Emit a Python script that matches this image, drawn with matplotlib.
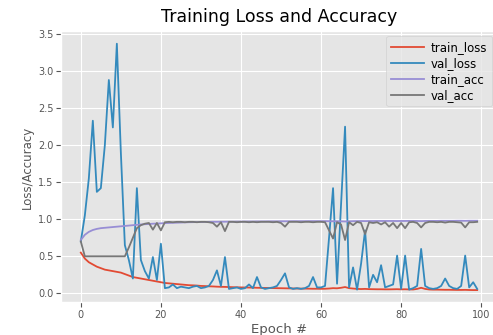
import numpy as np
import matplotlib
matplotlib.use("Agg")
import matplotlib.pyplot as plt

# values, one per epoch (0..99)
train_loss = [
    0.55, 0.47, 0.42, 0.39, 0.36, 0.34, 0.32, 0.31, 0.30, 0.29,
    0.28, 0.26, 0.24, 0.22, 0.21, 0.20, 0.19, 0.18, 0.17, 0.16,
    0.15, 0.14, 0.135, 0.13, 0.125, 0.12, 0.115, 0.11, 0.108, 0.105,
    0.10, 0.098, 0.095, 0.093, 0.09, 0.088, 0.087, 0.085, 0.083, 0.082,
    0.08, 0.079, 0.078, 0.077, 0.075, 0.074, 0.073, 0.072, 0.071, 0.07,
    0.069, 0.068, 0.067, 0.066, 0.065, 0.064, 0.064, 0.063, 0.062, 0.062,
    0.061, 0.062, 0.065, 0.07, 0.068, 0.075, 0.085, 0.07, 0.065, 0.06,
    0.058, 0.06, 0.057, 0.056, 0.055, 0.055, 0.054, 0.054, 0.055, 0.056,
    0.054, 0.055, 0.053, 0.052, 0.06, 0.075, 0.06, 0.052, 0.05, 0.05,
    0.049, 0.048, 0.048, 0.047, 0.046, 0.046, 0.047, 0.045, 0.044, 0.044,
]
val_loss = [
    0.70, 1.05, 1.55, 2.33, 1.37, 1.42, 2.0, 2.88, 2.24, 3.37,
    1.9, 0.65, 0.45, 0.2, 1.42, 0.45, 0.3, 0.2, 0.49, 0.18,
    0.67, 0.07, 0.08, 0.12, 0.07, 0.09, 0.08, 0.07, 0.09, 0.1,
    0.07, 0.08, 0.1, 0.18, 0.31, 0.1, 0.49, 0.06, 0.07, 0.08,
    0.06, 0.07, 0.12, 0.07, 0.22, 0.08, 0.06, 0.07, 0.08, 0.1,
    0.18, 0.27, 0.08, 0.06, 0.07, 0.06, 0.07, 0.1, 0.22, 0.08,
    0.08, 0.1, 0.75, 1.42, 0.13, 1.2, 2.25, 0.08, 0.35, 0.05,
    0.4, 0.85, 0.08, 0.25, 0.15, 0.38, 0.08, 0.1, 0.12, 0.51,
    0.06, 0.51, 0.05, 0.07, 0.1, 0.6, 0.1, 0.07, 0.06, 0.07,
    0.1, 0.2, 0.1, 0.07, 0.06, 0.1, 0.51, 0.08, 0.15, 0.06,
]
train_acc = [
    0.72, 0.79, 0.83, 0.855, 0.87, 0.88, 0.885, 0.89, 0.895, 0.90,
    0.905, 0.91, 0.915, 0.92, 0.925, 0.93, 0.933, 0.936, 0.94, 0.942,
    0.945, 0.948, 0.95, 0.952, 0.954, 0.956, 0.958, 0.96, 0.961, 0.962,
    0.963, 0.964, 0.965, 0.966, 0.966, 0.967, 0.967, 0.968, 0.968, 0.969,
    0.969, 0.97, 0.97, 0.97, 0.971, 0.971, 0.971, 0.972, 0.972, 0.972,
    0.973, 0.973, 0.973, 0.974, 0.974, 0.974, 0.974, 0.975, 0.975, 0.975,
    0.975, 0.975, 0.974, 0.973, 0.973, 0.972, 0.97, 0.972, 0.974, 0.975,
    0.976, 0.975, 0.976, 0.976, 0.977, 0.977, 0.977, 0.977, 0.977, 0.976,
    0.977, 0.977, 0.978, 0.978, 0.977, 0.975, 0.977, 0.978, 0.978, 0.978,
    0.979, 0.979, 0.979, 0.979, 0.98, 0.98, 0.979, 0.98, 0.98, 0.98,
]
val_acc = [
    0.70, 0.50, 0.50, 0.50, 0.50, 0.50, 0.50, 0.50, 0.50, 0.50,
    0.50, 0.50, 0.62, 0.75, 0.88, 0.92, 0.94, 0.95, 0.86, 0.95,
    0.85, 0.96, 0.965, 0.96, 0.965, 0.965, 0.96, 0.965, 0.965, 0.96,
    0.965, 0.965, 0.96, 0.95, 0.90, 0.96, 0.84, 0.965, 0.965, 0.96,
    0.965, 0.965, 0.96, 0.965, 0.96, 0.965, 0.965, 0.965, 0.96, 0.965,
    0.95, 0.90, 0.965, 0.965, 0.965, 0.96, 0.965, 0.965, 0.96, 0.965,
    0.965, 0.96, 0.85, 0.74, 0.96, 0.93, 0.72, 0.96, 0.92, 0.965,
    0.95, 0.80, 0.96, 0.95, 0.96, 0.93, 0.96, 0.90, 0.95, 0.88,
    0.95, 0.88, 0.96, 0.965, 0.95, 0.89, 0.95, 0.965, 0.965, 0.96,
    0.965, 0.955, 0.965, 0.965, 0.96, 0.955, 0.89, 0.96, 0.96, 0.965,
]

plt.style.use("ggplot")
N = np.arange(0, len(train_loss))

fig = plt.figure(figsize=(4.93, 3.35), dpi=100)
ax = fig.add_axes([61 / 493, 32.6 / 335, 436 / 493, 271 / 335])
ax.plot(N, train_loss, label="train_loss", lw=1.3)
ax.plot(N, val_loss, label="val_loss", lw=1.3)
ax.plot(N, train_acc, label="train_acc", lw=1.3)
ax.plot(N, val_acc, label="val_acc", lw=1.3)
ax.set_title("Training Loss and Accuracy", fontsize=12.5, pad=7)
ax.set_xlabel("Epoch #", fontsize=9.5, labelpad=2)
ax.set_ylabel("Loss/Accuracy", fontsize=8.5, labelpad=3)
ax.tick_params(labelsize=7, pad=2)
ax.legend(loc="upper right", fontsize=8.5, labelspacing=0.25,
          borderaxespad=0.4, handlelength=2.8, handletextpad=0.6)

fig.savefig("out.png", dpi=100)
